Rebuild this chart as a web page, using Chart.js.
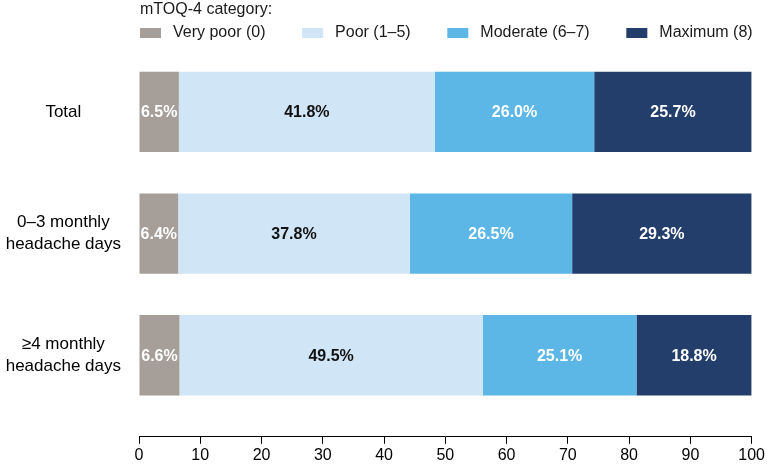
<!DOCTYPE html>
<html>
<head>
<meta charset="utf-8">
<script src="https://cdn.jsdelivr.net/npm/chart.js@4/dist/chart.umd.min.js"></script>
<style>
  html, body { margin: 0; padding: 0; background: #fff; }
  #wrap { width: 767px; height: 467px; position: relative; }
</style>
</head>
<body>
<div id="wrap"><canvas id="chartMtoq"></canvas></div>
<script>
'use strict';

// categories (one row each), read top to bottom
const CATEGORIES = [
  ['Total'],
  ['0–3 monthly', 'headache days'],
  ['≥4 monthly', 'headache days'],
];

const SERIES_LABELS = ['Very poor (0)', 'Poor (1–5)', 'Moderate (6–7)', 'Maximum (8)'];
const VERY_POOR = [6.5, 6.4, 6.6];
const POOR = [41.8, 37.8, 49.5];
const MODERATE = [26.0, 26.5, 25.1];
const MAXIMUM = [25.7, 29.3, 18.8];
const X_TICKS = [0, 10, 20, 30, 40, 50, 60, 70, 80, 90, 100];

const LEGEND_TITLE = 'mTOQ-4 category:';
const COLORS = ['#a69e98', '#d0e5f6', '#5db7e6', '#243e6b'];
const LABEL_COLORS = ['#ffffff', '#111111', '#ffffff', '#ffffff'];
const FONT = '"Liberation Sans", Arial, sans-serif';

const seriesValues = [VERY_POOR, POOR, MODERATE, MAXIMUM];

// draws the percentage inside each segment
const segmentLabels = {
  id: 'segmentLabels',
  afterDatasetsDraw(chart) {
    const ctx = chart.ctx;
    ctx.save();
    ctx.font = 'bold 16px ' + FONT;
    ctx.textAlign = 'center';
    ctx.textBaseline = 'middle';
    chart.data.datasets.forEach((ds, di) => {
      const meta = chart.getDatasetMeta(di);
      ctx.fillStyle = LABEL_COLORS[di];
      meta.data.forEach((el, i) => {
        const p = el.getCenterPoint();
        ctx.fillText(ds.data[i].x.toFixed(1) + '%', p.x, p.y + 1);
      });
    });
    ctx.restore();
  }
};

// legend with a title, spread over the width of the plot
const topLegend = {
  id: 'topLegend',
  afterDraw(chart) {
    const ctx = chart.ctx;
    const area = chart.chartArea;
    const boxW = 21, boxH = 10, gap = 12;
    ctx.save();
    ctx.font = '16px ' + FONT;
    ctx.fillStyle = '#1a1a1a';
    ctx.textBaseline = 'middle';
    ctx.textAlign = 'left';
    ctx.fillText(LEGEND_TITLE, area.left + 1, 10);

    const widths = chart.data.datasets.map(ds => boxW + gap + ctx.measureText(ds.label).width);
    const total = widths.reduce((a, b) => a + b, 0);
    const spacing = (area.right - area.left - total) / (widths.length - 1);
    let x = area.left + 1;
    const y = 33;
    chart.data.datasets.forEach((ds, i) => {
      ctx.fillStyle = ds.backgroundColor;
      ctx.fillRect(x, y - boxH / 2, boxW, boxH);
      ctx.fillStyle = '#1a1a1a';
      ctx.fillText(ds.label, x + boxW + gap, y);
      x += widths[i] + spacing;
    });
    ctx.restore();
  }
};

const datasets = SERIES_LABELS.map((label, si) => ({
  label: label,
  data: seriesValues[si].map((v, i) => ({ x: v, y: i })),
  backgroundColor: COLORS[si],
  borderWidth: 0,
  barPercentage: 0.66,
  categoryPercentage: 1,
}));

new Chart(document.getElementById('chartMtoq'), {
  type: 'bar',
  data: { datasets: datasets },
  options: {
    indexAxis: 'y',
    responsive: true,
    maintainAspectRatio: false,
    animation: false,
    layout: { padding: { top: 51, right: 15, left: 0, bottom: 0 } },
    plugins: {
      legend: { display: false },
      tooltip: { enabled: false },
    },
    scales: {
      x: {
        type: 'linear',
        stacked: true,
        min: 0,
        max: 100,
        afterBuildTicks: s => { s.ticks = X_TICKS.map(v => ({ value: v })); },
        grid: { drawOnChartArea: false, drawTicks: true, tickLength: 7, color: '#000', lineWidth: 1 },
        border: { display: true, color: '#000', width: 1 },
        ticks: { color: '#000', font: { family: FONT, size: 16 }, padding: 2, maxRotation: 0 },
      },
      y: {
        type: 'linear',
        stacked: true,
        offset: false,
        bounds: 'data',
        reverse: true,
        min: -0.5,
        max: 2.67,
        afterBuildTicks: s => { s.ticks = CATEGORIES.map((c, i) => ({ value: i })); },
        afterFit: s => { s.width = 139; },
        grid: { display: false, drawTicks: false, offset: false },
        border: { display: false },
        ticks: {
          color: '#000',
          font: { family: FONT, size: 17, lineHeight: 1.3 },
          crossAlign: 'center',
          padding: 18,
          callback: v => CATEGORIES[v],
        },
      },
    },
  },
  plugins: [segmentLabels, topLegend],
});
</script>
</body>
</html>
